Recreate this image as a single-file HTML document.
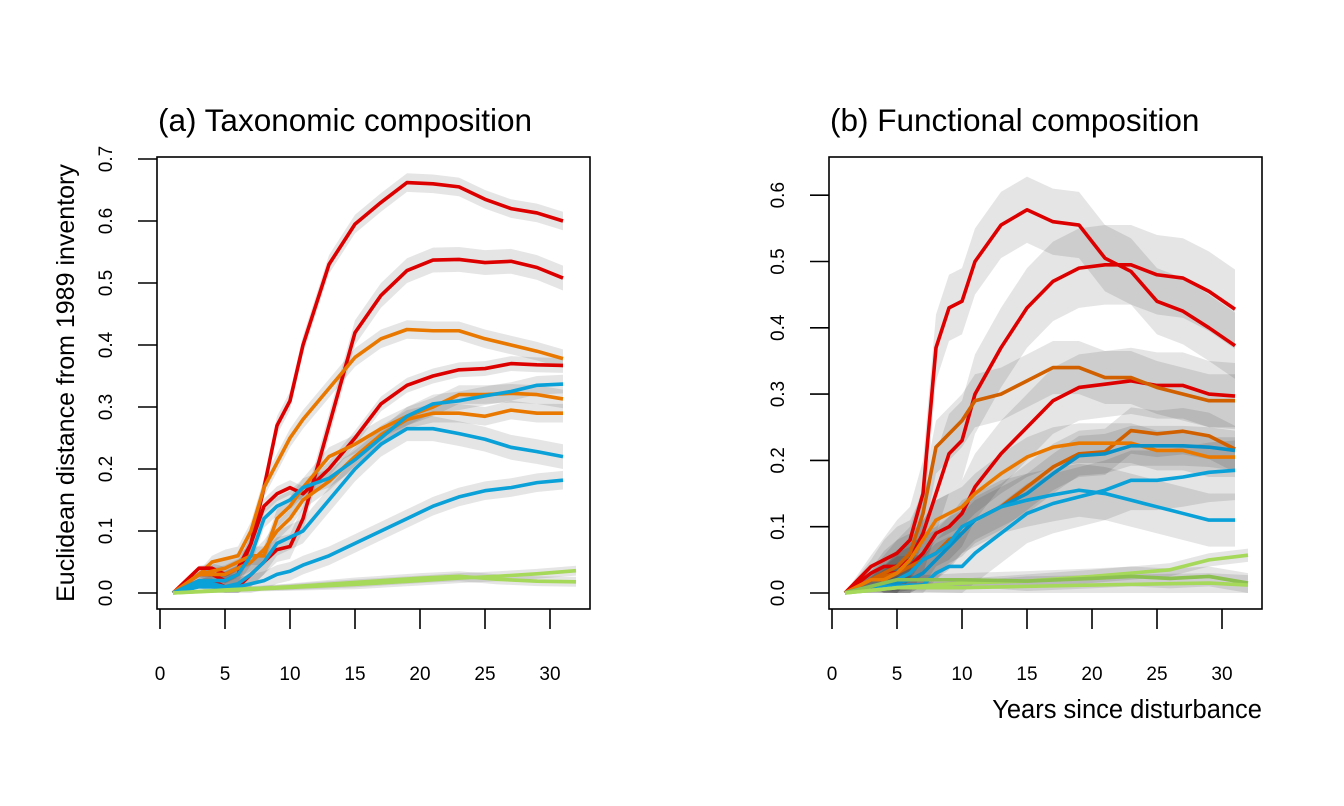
<!DOCTYPE html>
<html><head><meta charset="utf-8"><style>
body{margin:0;background:#fff}
svg{display:block;font-family:"Liberation Sans",Arial,sans-serif}
</style></head><body>
<svg id="c" width="1344" height="806" viewBox="0 0 1344 806"></svg>
<script>
const years=[1,3,4,5,6,7,8,9,10,11,13,15,17,19,21,23,25,27,29,31];
const greenYears=[1,5,10,15,20,23,26,29,32];
// Panel (a) Taxonomic composition
const aRed1=[0,0.03,0.03,0.02,0.03,0.08,0.17,0.27,0.31,0.40,0.53,0.595,0.63,0.662,0.66,0.655,0.635,0.62,0.613,0.60];
const aRed2=[0,0.02,0.02,0.01,0.01,0.03,0.05,0.07,0.075,0.12,0.27,0.42,0.48,0.52,0.537,0.538,0.533,0.535,0.525,0.508];
const aRed3=[0,0.04,0.04,0.03,0.04,0.08,0.14,0.16,0.17,0.16,0.20,0.25,0.305,0.335,0.35,0.36,0.362,0.37,0.368,0.367];
const aOrange1=[0,0.03,0.05,0.055,0.06,0.10,0.17,0.21,0.25,0.28,0.33,0.38,0.41,0.425,0.423,0.423,0.41,0.40,0.39,0.378];
const aOrange2=[0,0.03,0.035,0.04,0.05,0.06,0.06,0.12,0.14,0.17,0.22,0.24,0.265,0.285,0.30,0.32,0.32,0.322,0.32,0.313];
const aOrange3=[0,0.03,0.03,0.03,0.04,0.05,0.07,0.10,0.12,0.15,0.18,0.22,0.255,0.28,0.29,0.29,0.285,0.295,0.29,0.29];
const aBlue1=[0,0.02,0.02,0.02,0.03,0.06,0.12,0.14,0.15,0.17,0.185,0.215,0.25,0.285,0.305,0.31,0.318,0.325,0.335,0.337];
const aBlue2=[0,0.015,0.015,0.01,0.015,0.03,0.05,0.08,0.09,0.10,0.15,0.20,0.24,0.265,0.265,0.257,0.248,0.235,0.228,0.22];
const aBlue3=[0,0.01,0.01,0.008,0.01,0.015,0.02,0.03,0.035,0.045,0.06,0.08,0.10,0.12,0.14,0.155,0.165,0.17,0.178,0.182];
const aGreen1=[0,0.004,0.009,0.014,0.02,0.024,0.027,0.031,0.036];
const aGreen2=[0,0.005,0.01,0.017,0.024,0.027,0.022,0.019,0.018];
// Panel (b) Functional composition
const bRed1=[0,0.04,0.05,0.06,0.08,0.15,0.37,0.43,0.44,0.50,0.555,0.578,0.56,0.555,0.505,0.485,0.44,0.425,0.40,0.373];
const bRed2=[0,0.03,0.04,0.04,0.05,0.09,0.15,0.21,0.23,0.30,0.37,0.43,0.47,0.49,0.495,0.495,0.48,0.475,0.455,0.428];
const bRed3=[0,0.02,0.03,0.03,0.04,0.06,0.09,0.10,0.12,0.16,0.21,0.25,0.29,0.31,0.315,0.32,0.313,0.313,0.30,0.297];
const bOrange1=[0,0.02,0.03,0.04,0.06,0.12,0.22,0.24,0.26,0.29,0.30,0.32,0.34,0.34,0.325,0.325,0.31,0.30,0.29,0.29];
const bOrange2=[0,0.02,0.025,0.03,0.04,0.05,0.06,0.08,0.09,0.11,0.13,0.16,0.19,0.21,0.213,0.245,0.24,0.244,0.237,0.217];
const bOrange3=[0,0.02,0.02,0.03,0.05,0.08,0.11,0.12,0.13,0.15,0.18,0.205,0.22,0.226,0.226,0.226,0.215,0.215,0.205,0.205];
const bBlue1=[0,0.01,0.015,0.015,0.02,0.03,0.05,0.07,0.09,0.11,0.13,0.15,0.18,0.207,0.21,0.222,0.222,0.222,0.22,0.215];
const bBlue2=[0,0.01,0.015,0.02,0.03,0.05,0.06,0.075,0.10,0.11,0.13,0.14,0.148,0.155,0.15,0.14,0.13,0.12,0.11,0.11];
const bBlue3=[0,0.01,0.01,0.01,0.012,0.012,0.03,0.04,0.04,0.06,0.09,0.12,0.135,0.145,0.155,0.17,0.17,0.175,0.182,0.185];
const bGreen1=[0,0.008,0.015,0.018,0.025,0.03,0.035,0.05,0.057];
const bGreen2=[0,0.02,0.02,0.018,0.022,0.025,0.022,0.025,0.015];
const bGreen3=[0,0.008,0.008,0.01,0.012,0.013,0.014,0.015,0.012];
const aCI=[0.015,0.02,0.015,0.012,0.015,0.015,0.015,0.02,0.015,0.008,0.008];
const bCI=[0.05,0.06,0.05,0.04,0.035,0.03,0.03,0.04,0.045,0.01,0.015,0.015];
const xTicks=[0,5,10,15,20,25,30];
const aYTicks=["0.0","0.1","0.2","0.3","0.4","0.5","0.6","0.7"];
const bYTicks=["0.0","0.1","0.2","0.3","0.4","0.5","0.6"];

const NS="http://www.w3.org/2000/svg";
const svg=document.getElementById('c');
function el(t,a,p){const e=document.createElementNS(NS,t);for(const k in a)e.setAttribute(k,a[k]);(p||svg).appendChild(e);return e;}
const COL={red:"#dd0000",orange:"#e87800",dorange:"#d06000",blue:"#0aa0d8",green:"#a6d85a"};

function panel(cfg){
  const g=el('g',{});
  
  
  const X=v=>cfg.x0+v*13;
  const Y=v=>593-v*cfg.ppu;
  cfg.series.forEach((s,i)=>{
    const ys=s.yrs, ci=cfg.ci[i];
    let up=ys.map((x,j)=>X(x)+','+Y(s.v[j]+ci*Math.min(1,j/3))).join(' ');
    let dn=ys.map((x,j)=>X(x)+','+Y(Math.max(0,s.v[j]-ci*Math.min(1,j/3)))).reverse().join(' ');
    const b=el('polygon',{points:up+' '+dn,fill:'#000','fill-opacity':0.1},g);
    
    
  });
  cfg.series.forEach(s=>{
    const l=el('polyline',{points:s.yrs.map((x,j)=>X(x)+','+Y(s.v[j])).join(' '),fill:'none',stroke:s.c,'stroke-width':3.6,'stroke-linejoin':'round'},g);
    
    
  });
  const box=el('rect',{x:cfg.bx,y:157,width:cfg.bw,height:452,fill:'none',stroke:'#000','stroke-width':1.6},g);
  
  
  xTicks.forEach(t=>{
    el('line',{x1:X(t),x2:X(t),y1:609,y2:629,stroke:'#000','stroke-width':1.6},g);
    const tx=el('text',{x:X(t),y:680,'font-size':19,'text-anchor':'middle'},g);
    tx.textContent=t;
    
    
  });
  cfg.yt.forEach((t,i)=>{
    const yy=Y(i*0.1);
    el('line',{x1:cfg.bx-19,x2:cfg.bx,y1:yy,y2:yy,stroke:'#000','stroke-width':1.6},g);
    const tx=el('text',{x:0,y:0,'font-size':19,'text-anchor':'middle',transform:`translate(${cfg.bx-45},${yy}) rotate(-90)`},g);
    tx.textContent=t;
    
    
  });
  const ti=el('text',{x:cfg.bx+1,y:131,'font-size':31.5},g);
  ti.textContent=cfg.title;
  
  
}
function S(n,v,c,yrs){return {n,v,c,yrs:yrs||years};}
panel({name:'panel-a',x0:160,bx:157,bw:433,ppu:620,yt:aYTicks,ci:aCI,title:'(a) Taxonomic composition',
 series:[S('a-red-1',aRed1,COL.red),S('a-red-2',aRed2,COL.red),S('a-orange-1',aOrange1,COL.orange),S('a-red-3',aRed3,COL.red),
 S('a-orange-2',aOrange2,COL.orange),S('a-orange-3',aOrange3,COL.orange),S('a-blue-1',aBlue1,COL.blue),S('a-blue-2',aBlue2,COL.blue),
 S('a-blue-3',aBlue3,COL.blue),S('a-green-1',aGreen1,COL.green,greenYears),S('a-green-2',aGreen2,COL.green,greenYears)]});
panel({name:'panel-b',x0:832,bx:829,bw:433,ppu:663,yt:bYTicks,ci:bCI,title:'(b) Functional composition',
 series:[S('b-red-1',bRed1,COL.red),S('b-red-2',bRed2,COL.red),S('b-red-3',bRed3,COL.red),S('b-orange-1',bOrange1,COL.dorange),
 S('b-orange-2',bOrange2,COL.dorange),S('b-orange-3',bOrange3,COL.orange),S('b-blue-1',bBlue1,'#0890c8'),S('b-blue-2',bBlue2,COL.blue),
 S('b-blue-3',bBlue3,COL.blue),S('b-green-1',bGreen1,COL.green,greenYears),S('b-green-2',bGreen2,'#8cc050',greenYears),S('b-green-3',bGreen3,COL.green,greenYears)]});
const yl=el('text',{x:0,y:0,'font-size':25,'text-anchor':'middle',transform:'translate(74,383) rotate(-90)'});
yl.textContent='Euclidean distance from 1989 inventory';


const xl=el('text',{x:1262,y:718,'font-size':25.5,'text-anchor':'end'});
xl.textContent='Years since disturbance';


</script>
</body></html>
